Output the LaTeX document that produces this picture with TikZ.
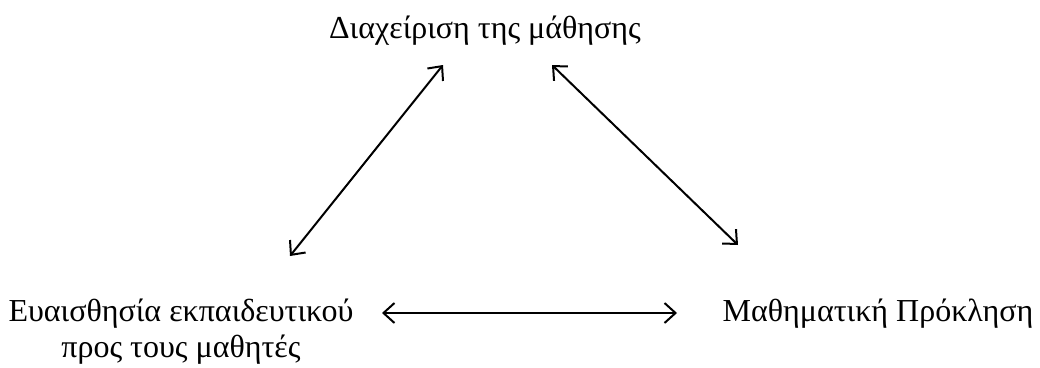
\documentclass[tikz,border=0pt]{standalone}
\usepackage{fontspec}
\setmainfont{Liberation Serif}
\usetikzlibrary{arrows.meta, positioning, calc}

\begin{document}
\begin{tikzpicture}[x=1pt, y=-1pt,
    lbl/.style={inner sep=0pt, anchor=base, font=\fontsize{32}{36}\selectfont, align=center},
    dblarrow/.style={{Straight Barb[length=11pt, width=20pt]}-{Straight Barb[length=11pt, width=20pt]},
                     line width=2pt}]
  \useasboundingbox (0,0) rectangle (1040,367);

  \node[lbl] (diaxeirisi) at (485,38) {Διαχείριση της μάθησης};
  % base of a two-line node is its last line
  \node[lbl] (euaisthisia) at (181,357)
    {Ευαισθησία εκπαιδευτικού\\προς τους μαθητές};
  \node[lbl] (proklisi) at (878,321) {Μαθηματική Πρόκληση};

  \draw[dblarrow] ([shift={(109,-101)}]euaisthisia.base)
    -- ([shift={(-42,27)}]diaxeirisi.base);
  \draw[dblarrow] ([shift={(67,27)}]diaxeirisi.base)
    -- ([shift={(-140,-76)}]proklisi.base);
  \draw[dblarrow] ([shift={(201,-44)}]euaisthisia.base)
    -- ([shift={(-201,-8)}]proklisi.base);
\end{tikzpicture}
\end{document}
